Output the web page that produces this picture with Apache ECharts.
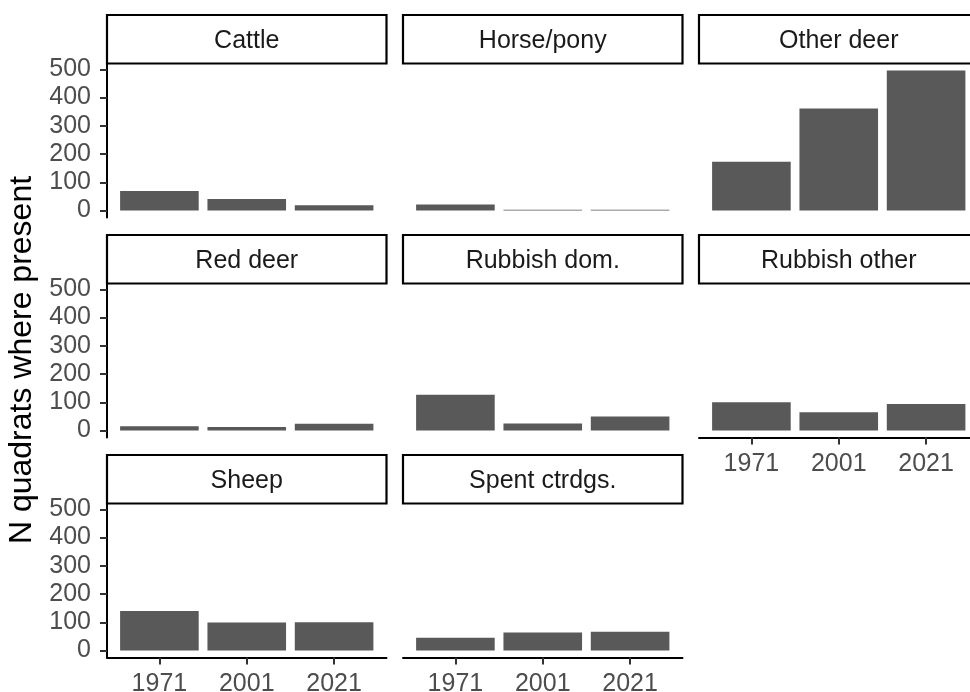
<!DOCTYPE html>
<html>
<head>
<meta charset="utf-8">
<script src="https://cdn.jsdelivr.net/npm/echarts@6/dist/echarts.min.js"></script>
<style>
html,body{margin:0;padding:0;background:#fff;overflow:hidden;}
#chart{width:970px;height:692px;}
</style>
</head>
<body>
<div id="chart"></div>
<script>
// ---- data ----
const years = ['1971', '2001', '2021'];
const facets = ['Cattle', 'Horse/pony', 'Other deer', 'Red deer', 'Rubbish dom.', 'Rubbish other', 'Sheep', 'Spent ctrdgs.'];
const cattle = [69, 41, 19];
const horsePony = [21, 3, 3];
const otherDeer = [173, 361, 496];
const redDeer = [15, 12, 24];
const rubbishDom = [127, 25, 50];
const rubbishOther = [100, 65, 94];
const sheep = [140, 99, 100];
const spentCtrdgs = [45, 64, 66];
const yTicks = [0, 100, 200, 300, 400, 500];
const yTitle = 'N quadrats where present';

const seriesValues = [cattle, horsePony, otherDeer, redDeer, rubbishDom, rubbishOther, sheep, spentCtrdgs];

// ---- layout ----
const colLeft = [107, 403, 699];
const panelW = 279.5;
const rowTop = [15, 235, 455];
const stripH = 48.5;
const panelH = 154;
const FONT = 'Liberation Sans, Arial, Helvetica, sans-serif';

const allMax = Math.max(...seriesValues.flat());
const yMin = -0.05 * allMax;
const yMax = allMax * 1.05;

const grids = [], xAxes = [], yAxes = [], series = [], graphics = [];
const nCols = 3;
const nFacets = facets.length;

facets.forEach((name, i) => {
  const r = Math.floor(i / nCols), c = i % nCols;
  const left = colLeft[c], top = rowTop[r] + stripH;
  grids.push({ left: left, top: top, width: panelW, height: panelH, containLabel: false, outerBoundsMode: 'none' });
  const isBottom = (i + nCols) >= nFacets;
  const isLeft = c === 0;
  xAxes.push({
    type: 'value', gridIndex: i, min: 0.4, max: 3.6,
    splitLine: { show: false },
    axisLine: { show: isBottom, onZero: false, lineStyle: { color: '#000', width: 2 } },
    axisTick: { show: isBottom, customValues: [1, 2, 3], length: 7, lineStyle: { color: '#333', width: 2 } },
    axisLabel: {
      show: isBottom, customValues: [1, 2, 3],
      formatter: v => years[Math.round(v) - 1] || '',
      color: '#4d4d4d', fontSize: 25, fontFamily: FONT, margin: 14, lineHeight: 25
    }
  });
  yAxes.push({
    type: 'value', gridIndex: i, min: yMin, max: yMax,
    splitLine: { show: false },
    axisLine: { show: isLeft, lineStyle: { color: '#000', width: 2 } },
    axisTick: { show: isLeft, customValues: yTicks, length: 7, lineStyle: { color: '#333', width: 2 } },
    axisLabel: {
      show: isLeft, customValues: yTicks,
      color: '#4d4d4d', fontSize: 25, fontFamily: FONT, margin: 16
    }
  });
  series.push({
    type: 'bar', xAxisIndex: i, yAxisIndex: i,
    data: seriesValues[i].map((v, k) => [k + 1, v]),
    barWidth: panelW / 3.2 * 0.9,
    itemStyle: { color: '#595959' },
    silent: true, animation: false
  });
  graphics.push({
    type: 'rect', silent: true,
    shape: { x: left, y: rowTop[r], width: panelW, height: stripH },
    style: { fill: '#fff', stroke: '#000', lineWidth: 2.2 }
  });
  graphics.push({
    type: 'text', silent: true,
    x: left + panelW / 2, y: rowTop[r] + stripH / 2 + 1.5,
    style: { text: name, fill: '#1a1a1a', font: '25px ' + FONT, align: 'center', verticalAlign: 'middle' }
  });
});

graphics.push({
  type: 'text', silent: true, x: 22, y: 360, rotation: Math.PI / 2,
  style: { text: yTitle, fill: '#000', font: '32px ' + FONT, align: 'center', verticalAlign: 'middle' }
});

const chart = echarts.init(document.getElementById('chart'), null, { renderer: 'canvas' });
chart.setOption({
  backgroundColor: '#fff',
  animation: false,
  grid: grids,
  xAxis: xAxes,
  yAxis: yAxes,
  series: series,
  graphic: graphics
});
</script>
</body>
</html>
